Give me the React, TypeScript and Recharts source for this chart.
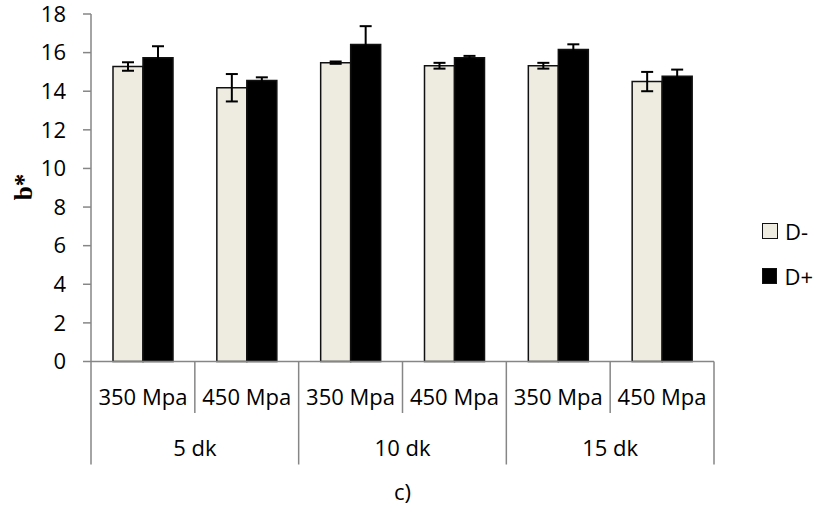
import React from 'react';
import { BarChart, Bar, XAxis, YAxis, ErrorBar, Legend } from 'recharts';

const CATEGORIES = ['350 Mpa', '450 Mpa', '350 Mpa', '450 Mpa', '350 Mpa', '450 Mpa'];
const GROUPS = ['5 dk', '5 dk', '10 dk', '10 dk', '15 dk', '15 dk'];
const D_MINUS = [15.28, 14.18, 15.48, 15.32, 15.32, 14.5];
const D_MINUS_ERR = [0.22, 0.71, 0.06, 0.15, 0.15, 0.5];
const D_PLUS = [15.74, 14.56, 16.42, 15.74, 16.16, 14.77];
const D_PLUS_ERR = [0.59, 0.16, 0.95, 0.09, 0.27, 0.35];
const Y_TICKS = [0, 2, 4, 6, 8, 10, 12, 14, 16, 18];
const SERIES_ORDER = ['D-', 'D+'];

const data = CATEGORIES.map((cat, i) => ({
  id: `${GROUPS[i]}-${cat}`,
  pressure: cat,
  group: GROUPS[i],
  dMinus: D_MINUS[i],
  dMinusErr: D_MINUS_ERR[i],
  dPlus: D_PLUS[i],
  dPlusErr: D_PLUS_ERR[i],
}));

const W = 813;
const H = 506;
const MARGIN = { top: 14, right: 99, bottom: 0, left: 0 };
const Y_AXIS_W = 91;
const X_AXIS_H = 144.5;
const PLOT_W = W - MARGIN.left - MARGIN.right - Y_AXIS_W;
const AXIS_Y = H - X_AXIS_H;
const BAND = PLOT_W / CATEGORIES.length;

const FONT = '"Open Sans", sans-serif';
const AXIS_GRAY = '#868686';

// two-level category axis: pressure under each bar pair, duration under each pair of pairs
const CategoryTick = (props: any) => {
  const { x, index } = props;
  const left = x - BAND / 2;
  const right = x + BAND / 2;
  const isGroupStart = index % 2 === 0;
  const isLast = index === CATEGORIES.length - 1;
  return (
    <g>
      <line x1={left} x2={left} y1={AXIS_Y} y2={AXIS_Y + (isGroupStart ? 103 : 51.5)} stroke={AXIS_GRAY} strokeWidth={1.5} />
      {isLast && (
        <line x1={right} x2={right} y1={AXIS_Y} y2={AXIS_Y + 103} stroke={AXIS_GRAY} strokeWidth={1.5} />
      )}
      <text x={x} y={397} dy="0.35em" textAnchor="middle" fontSize={22} fontFamily={FONT} fill="#000">
        {CATEGORIES[index]}
      </text>
      {!isGroupStart && (
        <text x={left} y={448} dy="0.35em" textAnchor="middle" fontSize={22} fontFamily={FONT} fill="#000">
          {GROUPS[index]}
        </text>
      )}
    </g>
  );
};

const LegendBox = (props: any) => {
  const items = [...(props.payload || [])].sort(
    (a: any, b: any) => SERIES_ORDER.indexOf(a.value) - SERIES_ORDER.indexOf(b.value)
  );
  return (
    <div style={{ fontFamily: FONT, fontSize: 22, color: '#000' }}>
      {items.map((entry: any) => (
        <div key={entry.value} style={{ display: 'flex', alignItems: 'center', height: 45 }}>
          <span
            style={{
              width: 14,
              height: 14,
              marginRight: 7,
              background: entry.payload?.fill ?? entry.color,
              border: '1.5px solid #111',
            }}
          />
          <span>{entry.value}</span>
        </div>
      ))}
    </div>
  );
};

export default function App() {
  return (
    <div style={{ width: W, height: H, background: '#fff' }}>
      <style>{'body{margin:0}'}</style>
      <BarChart width={W} height={H} data={data} margin={MARGIN} barSize={30} barGap={0}>
        <YAxis
          width={Y_AXIS_W}
          domain={[0, 18]}
          ticks={Y_TICKS}
          interval={0}
          axisLine={{ stroke: AXIS_GRAY, strokeWidth: 1.5 }}
          tickLine={{ stroke: AXIS_GRAY, strokeWidth: 1.5 }}
          tickSize={8}
          tickMargin={17}
          tick={{ fontSize: 22, fontFamily: FONT, fill: '#000' }}
          label={() => (
            <text
              x={23}
              y={187}
              transform="rotate(-90 23 187)"
              textAnchor="middle"
              dominantBaseline="central"
              fontSize={25}
              fontWeight="bold"
              fontFamily='"Liberation Serif", "Times New Roman", serif'
              fill="#000"
            >
              b*
            </text>
          )}
        />
        <XAxis
          dataKey="id"
          height={X_AXIS_H}
          interval={0}
          axisLine={{ stroke: AXIS_GRAY, strokeWidth: 1.5 }}
          tickLine={false}
          tick={<CategoryTick />}
          label={(p: any) => {
            const vb = p.viewBox || {};
            return (
              <text
                x={vb.x + vb.width / 2}
                y={492}
                dy="0.35em"
                textAnchor="middle"
                fontSize={22}
                fontFamily={FONT}
                fill="#000"
              >
                c)
              </text>
            );
          }}
        />
        <Legend
          layout="vertical"
          align="center"
          verticalAlign="middle"
          content={<LegendBox />}
          wrapperStyle={{ left: 762, top: 208, width: 51, height: 95 }}
        />
        <Bar dataKey="dMinus" name="D-" fill="#EEECE1" stroke="#111" strokeWidth={1.5} isAnimationActive={false}>
          <ErrorBar dataKey="dMinusErr" width={6} strokeWidth={2} stroke="#000" direction="y" isAnimationActive={false} />
        </Bar>
        <Bar dataKey="dPlus" name="D+" fill="#000" stroke="#111" strokeWidth={1.5} isAnimationActive={false}>
          <ErrorBar dataKey="dPlusErr" width={6} strokeWidth={2} stroke="#000" direction="y" isAnimationActive={false} />
        </Bar>
      </BarChart>
    </div>
  );
}
